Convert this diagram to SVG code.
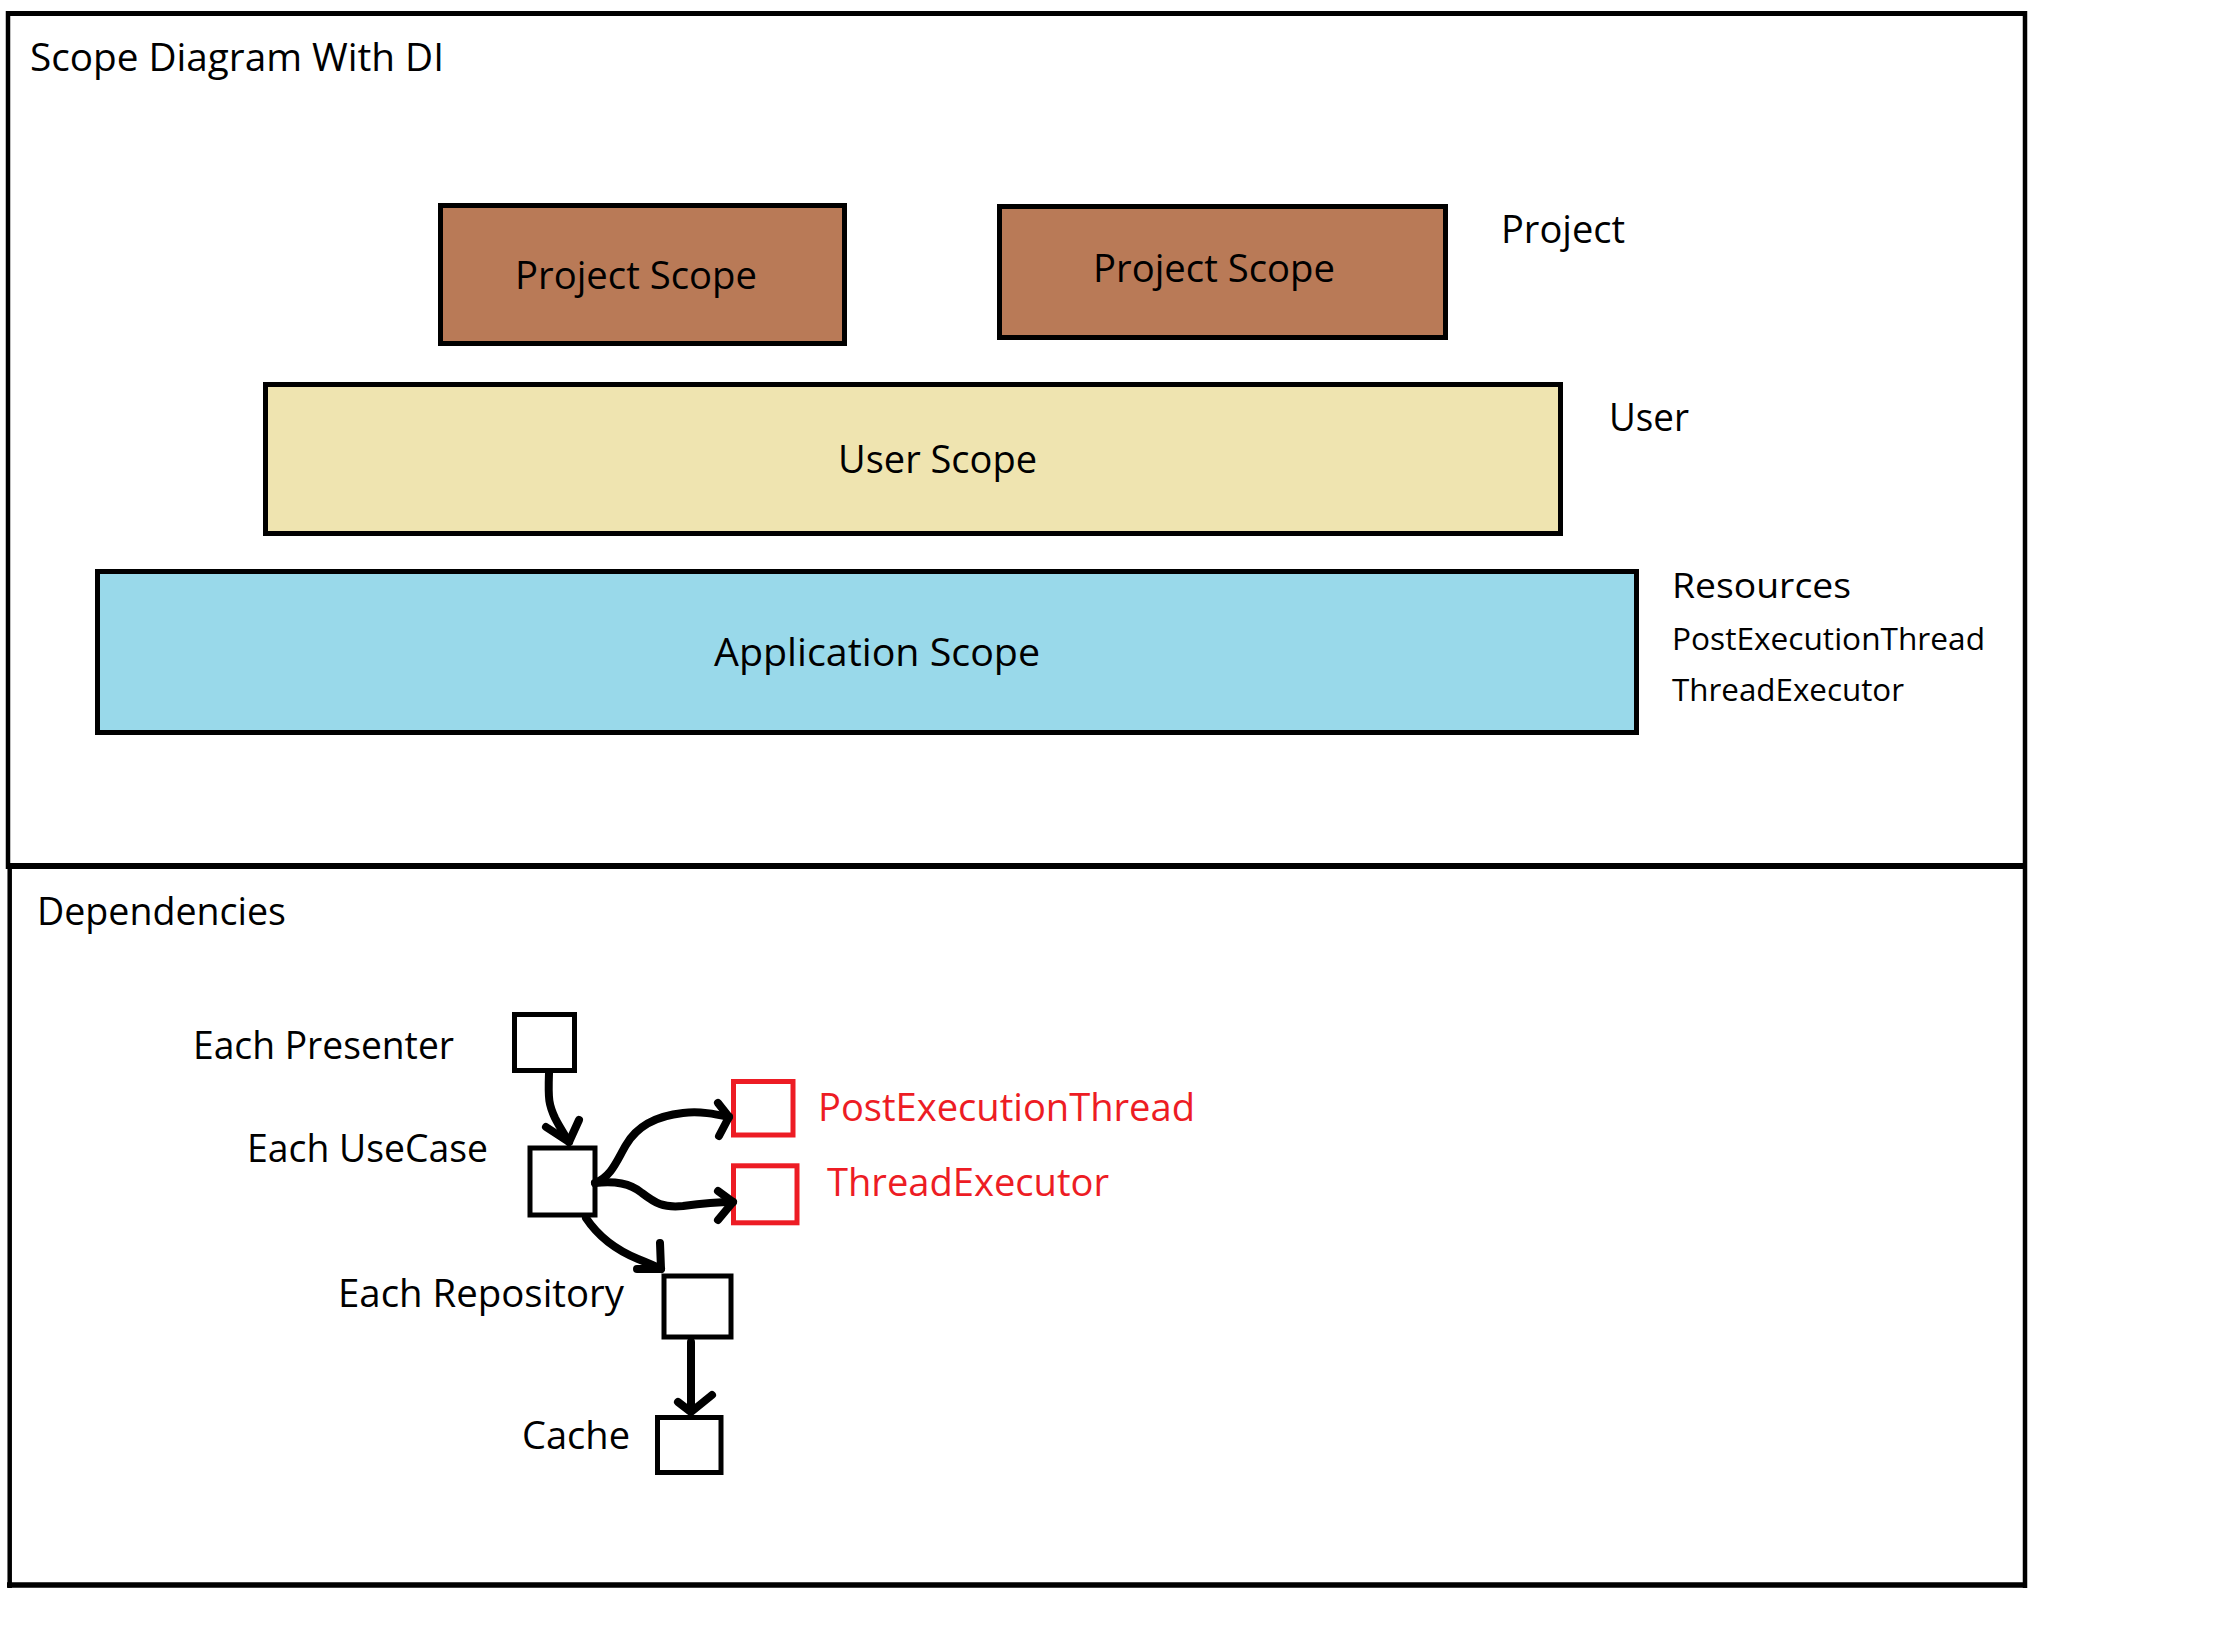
<svg xmlns="http://www.w3.org/2000/svg" width="2236" height="1634" viewBox="0 0 2236 1634">
  <style>
    text { font-family: "Open Sans", "Noto Sans", "DejaVu Sans", sans-serif; fill: #000; }
    .t38 { font-size: 38px; }
    .t34 { font-size: 34px; }
    .t31 { font-size: 31.5px; }
    .red { fill: #ED1C24; }
    .frame { stroke: #000; fill: none; }
    .scope { stroke: #000; stroke-width: 5; }
    .brown { fill: #B97A57; }
    .tan { fill: #EFE4B0; }
    .blue { fill: #99D9EA; }
    .sq { fill: #fff; stroke: #000; stroke-width: 5; }
    .sqr { fill: #fff; stroke: #ED1C24; stroke-width: 5; }
    .conn { fill: none; stroke: #000; stroke-width: 8; stroke-linecap: round; stroke-linejoin: round; }
  </style>
  <rect width="2236" height="1634" fill="#fff"/>

  <g id="frames">
    <line class="frame" x1="6" y1="13.5" x2="2027" y2="13.5" stroke-width="5"/>
    <line class="frame" x1="8" y1="11" x2="8" y2="869" stroke-width="4.5"/>
    <line class="frame" x1="2025" y1="11" x2="2025" y2="1588" stroke-width="4.5"/>
    <line class="frame" x1="6" y1="866" x2="2027" y2="866" stroke-width="6"/>
    <line class="frame" x1="9.7" y1="866" x2="9.7" y2="1588" stroke-width="4.5"/>
    <line class="frame" x1="7" y1="1585" x2="2027" y2="1585" stroke-width="5.5"/>
  </g>

  <g id="title">
    <text class="t38" x="30" y="71" textLength="414" lengthAdjust="spacingAndGlyphs">Scope Diagram With DI</text>
  </g>

  <g id="project-scope-1">
    <rect class="scope brown" x="440.5" y="205.5" width="404" height="138"/>
    <text class="t38" x="515" y="289" textLength="242" lengthAdjust="spacingAndGlyphs">Project Scope</text>
  </g>
  <g id="project-scope-2">
    <rect class="scope brown" x="999.5" y="206.5" width="446" height="131"/>
    <text class="t38" x="1093" y="282" textLength="242" lengthAdjust="spacingAndGlyphs">Project Scope</text>
  </g>
  <g id="label-project">
    <text class="t38" x="1501" y="243" textLength="124" lengthAdjust="spacingAndGlyphs">Project</text>
  </g>

  <g id="user-scope">
    <rect class="scope tan" x="265.5" y="384.5" width="1295" height="149"/>
    <text class="t38" x="838" y="473" textLength="199" lengthAdjust="spacingAndGlyphs">User Scope</text>
  </g>
  <g id="label-user">
    <text class="t38" x="1609" y="431" textLength="80" lengthAdjust="spacingAndGlyphs">User</text>
  </g>

  <g id="application-scope">
    <rect class="scope blue" x="97.5" y="571.5" width="1539" height="161"/>
    <text class="t38" x="714" y="666" textLength="326" lengthAdjust="spacingAndGlyphs">Application Scope</text>
  </g>
  <g id="label-resources">
    <text class="t34" x="1672" y="598" textLength="179" lengthAdjust="spacingAndGlyphs">Resources</text>
    <text class="t31" x="1672" y="649.5" textLength="313" lengthAdjust="spacingAndGlyphs">PostExecutionThread</text>
    <text class="t31" x="1672" y="700.5" textLength="232" lengthAdjust="spacingAndGlyphs">ThreadExecutor</text>
  </g>

  <g id="dependencies-title">
    <text class="t38" x="37" y="925" textLength="249" lengthAdjust="spacingAndGlyphs">Dependencies</text>
  </g>

  <g id="node-presenter">
    <rect class="sq" x="514.5" y="1014.5" width="60" height="56"/>
    <text class="t38" x="193" y="1059" textLength="261" lengthAdjust="spacingAndGlyphs">Each Presenter</text>
  </g>
  <g id="node-usecase">
    <rect class="sq" x="530" y="1148" width="65" height="67"/>
    <text class="t38" x="247" y="1161.5" textLength="241" lengthAdjust="spacingAndGlyphs">Each UseCase</text>
  </g>
  <g id="node-postexecutionthread">
    <rect class="sqr" x="733.5" y="1081.5" width="59.5" height="53.5"/>
    <text class="t38 red" x="818" y="1120.5" textLength="377" lengthAdjust="spacingAndGlyphs">PostExecutionThread</text>
  </g>
  <g id="node-threadexecutor">
    <rect class="sqr" x="733.5" y="1165.8" width="63.5" height="57"/>
    <text class="t38 red" x="827" y="1196" textLength="282" lengthAdjust="spacingAndGlyphs">ThreadExecutor</text>
  </g>
  <g id="node-repository">
    <rect class="sq" x="664" y="1276" width="67" height="61"/>
    <text class="t38" x="338" y="1306.5" textLength="286" lengthAdjust="spacingAndGlyphs">Each Repository</text>
  </g>
  <g id="node-cache">
    <rect class="sq" x="657.5" y="1417.5" width="63.5" height="55"/>
    <text class="t38" x="522" y="1449" textLength="108" lengthAdjust="spacingAndGlyphs">Cache</text>
  </g>

  <g id="connectors">
    <path class="conn" d="M549 1073 C548 1100, 549 1105, 555 1118 C560 1128, 565 1135, 569 1142"/>
    <path class="conn" d="M546 1127 L569 1142 L579 1120"/>
    <path class="conn" d="M595 1183 C612 1176, 617 1160, 626 1145 C637 1126, 655 1116, 683 1113 C700 1111, 715 1114, 729 1117"/>
    <path class="conn" d="M718 1103 L729 1117 L719 1136"/>
    <path class="conn" d="M595 1183 C615 1181, 630 1183, 642 1193 C655 1203, 663 1208, 683 1206 C705 1203, 720 1202, 733 1202"/>
    <path class="conn" d="M718 1191 L733 1202 L718 1220"/>
    <path class="conn" d="M586 1218 C598 1236, 616 1250, 638 1259 C648 1263, 655 1266, 661 1269"/>
    <path class="conn" d="M660 1243 L661 1269 L637 1269"/>
    <path class="conn" d="M691 1342 L691 1410"/>
    <path class="conn" d="M678 1402 L691 1412 L712 1395"/>
  </g>
</svg>
